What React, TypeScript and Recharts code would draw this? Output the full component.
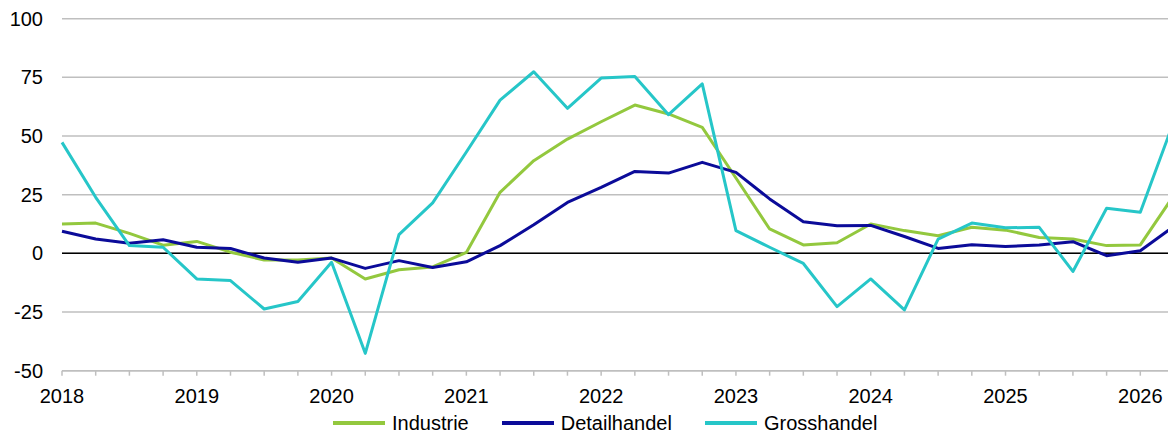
import { LineChart, Line, XAxis, YAxis, CartesianGrid, ReferenceLine } from 'recharts'

// Quartale 2018 Q1 bis 2026 Q2
const quartale = [
  2018, 2018.25, 2018.5, 2018.75, 2019, 2019.25, 2019.5, 2019.75,
  2020, 2020.25, 2020.5, 2020.75, 2021, 2021.25, 2021.5, 2021.75,
  2022, 2022.25, 2022.5, 2022.75, 2023, 2023.25, 2023.5, 2023.75,
  2024, 2024.25, 2024.5, 2024.75, 2025, 2025.25, 2025.5, 2025.75,
  2026, 2026.25,
]

const industrie = [
  12.5, 12.9, 8.5, 3.5, 5.1, 0.5, -2.8, -2.8, -2.0, -10.9,
  -7.0, -5.8, 0.4, 26.0, 39.5, 48.7, 56.1, 63.2, 59.4, 53.7,
  32.1, 10.4, 3.6, 4.5, 12.5, 9.7, 7.5, 11.1, 9.9, 6.8,
  6.1, 3.3, 3.6, 24.8,
]

const detailhandel = [
  9.4, 6.1, 4.3, 5.8, 2.6, 2.1, -2.0, -3.8, -2.0, -6.4,
  -3.1, -6.0, -3.6, 3.3, 12.2, 21.7, 28.1, 34.9, 34.2, 38.8,
  34.5, 23.2, 13.5, 11.8, 11.9, 7.2, 2.1, 3.7, 2.9, 3.6,
  5.0, -1.0, 1.1, 11.6,
]

const grosshandel = [
  47.3, 23.9, 3.3, 2.6, -10.9, -11.6, -23.7, -20.5, -3.8, -42.6,
  8.0, 21.5, 43.2, 65.3, 77.4, 61.8, 74.7, 75.4, 59.1, 72.2,
  9.7, 2.6, -4.3, -22.7, -10.9, -24.1, 6.1, 12.9, 10.9, 11.1,
  -7.7, 19.2, 17.5, 56.4,
]

const yTicks = [-50, -25, 0, 25, 50, 75, 100]

const serien = [
  { key: 'industrie', name: 'Industrie', color: '#93c83e' },
  { key: 'detailhandel', name: 'Detailhandel', color: '#0b0b99' },
  { key: 'grosshandel', name: 'Grosshandel', color: '#26c6c8' },
]

const FONT = '"Liberation Sans", Arial, sans-serif'
const GRID = '#bfbfbf'

export default function App() {
  const data = quartale.map((q, i) => ({
    q,
    industrie: industrie[i],
    detailhandel: detailhandel[i],
    grosshandel: grosshandel[i],
  }))

  return (
    <div style={{ position: 'absolute', left: 0, top: 0, width: 1168, height: 435, overflow: 'hidden', background: '#fff', fontFamily: FONT }}>
      <LineChart width={1184} height={435} data={data} margin={{ top: 18.7, right: 10, bottom: 24.3, left: 0 }} style={{ fontFamily: FONT }}>
        <CartesianGrid vertical={false} stroke={GRID} strokeWidth={1.5} />
        <XAxis
          dataKey="q"
          type="number"
          domain={[2018, 2026.25]}
          ticks={quartale}
          interval={0}
          tickFormatter={(v: number) => (Number.isInteger(v) ? String(v) : '')}
          tick={{ fill: '#000', fontSize: 20 }}
          tickLine={{ stroke: GRID, strokeWidth: 1.5 }}
          tickSize={5}
          tickMargin={13}
          axisLine={{ stroke: GRID, strokeWidth: 1.5 }}
          height={40}
        />
        <YAxis
          domain={[-50, 100]}
          ticks={yTicks}
          interval={0}
          width={62}
          axisLine={false}
          tickLine={false}
          tickSize={0}
          tickMargin={19}
          tick={{ fill: '#000', fontSize: 20 }}
        />
        <ReferenceLine y={0} stroke="#000" strokeWidth={1.5} />
        {serien.map(s => (
          <Line
            key={s.key}
            type="linear"
            dataKey={s.key}
            name={s.name}
            stroke={s.color}
            strokeWidth={3}
            strokeLinejoin="round"
            dot={false}
            activeDot={false}
            isAnimationActive={false}
          />
        ))}
      </LineChart>
      <div style={{ position: 'absolute', left: 333, top: 410, display: 'flex', alignItems: 'center', fontSize: 20, color: '#000', lineHeight: '26px' }}>
        {serien.map((s, i) => (
          <div key={s.key} style={{ display: 'flex', alignItems: 'center', marginLeft: i === 0 ? 0 : 33 }}>
            <span style={{ display: 'inline-block', width: 52, height: 4, background: s.color, marginRight: 7 }} />
            <span>{s.name}</span>
          </div>
        ))}
      </div>
    </div>
  )
}
